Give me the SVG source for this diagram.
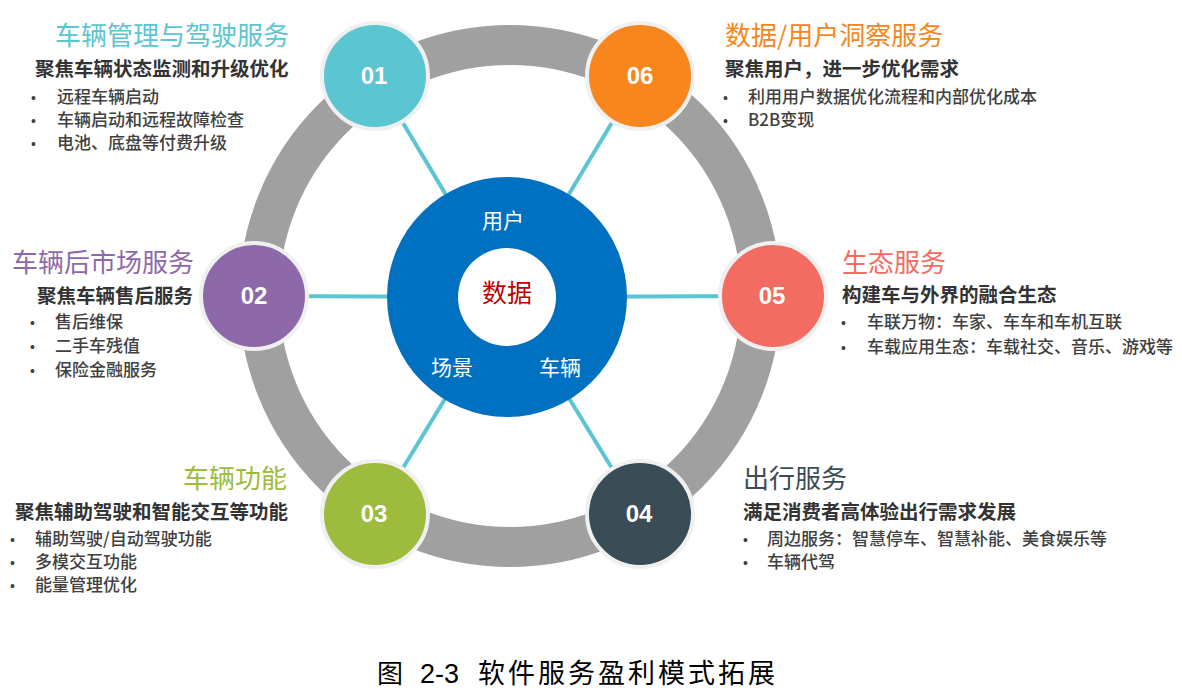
<svg xmlns="http://www.w3.org/2000/svg" width="1182" height="693" viewBox="0 0 1182 693">
<style>
.cjk{font-family:"Noto Sans CJK SC","Noto Sans",sans-serif}
.title{font-size:26px;font-weight:400}
.sub{font-size:19.5px;font-weight:700;fill:#333333}
.item{font-size:17px;font-weight:500;fill:#404040}
.dot{font-family:"Liberation Sans",Arial,sans-serif;font-size:14px;fill:#404040}
.num{font-family:"Liberation Sans",Arial,sans-serif;font-size:24px;font-weight:700;fill:#ffffff;text-anchor:middle}
.node{stroke:#F0F0F0;stroke-width:4}
.link{stroke:#5BC5D2;stroke-width:4;fill:none}
.ctr{fill:#ffffff;font-size:21px;text-anchor:middle}
</style>
<rect width="1182" height="693" fill="#ffffff"/>
<g id="ring">
<circle cx="510" cy="296" r="251" fill="none" stroke="#A0A0A0" stroke-width="40"/>
</g>
<g id="connectors">
<line class="link" x1="507" y1="297" x2="375" y2="76"/>
<line class="link" x1="507" y1="297" x2="640" y2="76"/>
<line class="link" x1="507" y1="297" x2="254" y2="296"/>
<line class="link" x1="507" y1="297" x2="773" y2="296"/>
<line class="link" x1="507" y1="297" x2="375" y2="514"/>
<line class="link" x1="507" y1="297" x2="640" y2="514"/>
</g>
<g id="center">
<circle cx="507" cy="297" r="120" fill="#0070C0"/>
<circle cx="507" cy="297" r="49" fill="#ffffff"/>
<text class="cjk ctr" x="503" y="228">用户</text>
<text class="cjk" x="507" y="302" font-size="25" fill="#C00000" text-anchor="middle">数据</text>
<text class="cjk ctr" x="452" y="375">场景</text>
<text class="cjk ctr" x="560" y="375">车辆</text>
</g>
<g id="node01">
<circle class="node" cx="375" cy="76" r="53" fill="#5BC5D2"/>
<text class="num" x="374" y="84">01</text>
<text class="cjk title" x="55" y="45" fill="#5BC5D2">车辆管理与驾驶服务</text>
<text class="cjk sub" x="35" y="76">聚焦车辆状态监测和升级优化</text>
<text class="dot" x="31" y="103">•</text><text class="cjk item" x="57" y="103">远程车辆启动</text>
<text class="dot" x="31" y="126">•</text><text class="cjk item" x="57" y="126">车辆启动和远程故障检查</text>
<text class="dot" x="31" y="149">•</text><text class="cjk item" x="57" y="149">电池、底盘等付费升级</text>
</g>
<g id="node06">
<circle class="node" cx="640" cy="76" r="53" fill="#F7861E"/>
<text class="num" x="640" y="84">06</text>
<text class="cjk title" x="725" y="45" fill="#F7861E">数据/用户洞察服务</text>
<text class="cjk sub" x="725" y="76">聚焦用户，进一步优化需求</text>
<text class="dot" x="723" y="103">•</text><text class="cjk item" x="748" y="103">利用用户数据优化流程和内部优化成本</text>
<text class="dot" x="723" y="126">•</text><text class="cjk item" x="748" y="126">B2B变现</text>
</g>
<g id="node02">
<circle class="node" cx="254" cy="296" r="53" fill="#8E69AA"/>
<text class="num" x="254" y="304">02</text>
<text class="cjk title" x="12" y="272" fill="#8E69AA">车辆后市场服务</text>
<text class="cjk sub" x="37" y="303">聚焦车辆售后服务</text>
<text class="dot" x="30" y="328">•</text><text class="cjk item" x="55" y="328">售后维保</text>
<text class="dot" x="30" y="352">•</text><text class="cjk item" x="55" y="352">二手车残值</text>
<text class="dot" x="30" y="376">•</text><text class="cjk item" x="55" y="376">保险金融服务</text>
</g>
<g id="node05">
<circle class="node" cx="773" cy="296" r="53" fill="#F26C61"/>
<text class="num" x="772" y="304">05</text>
<text class="cjk title" x="842" y="272" fill="#F26C61">生态服务</text>
<text class="cjk sub" x="842" y="302">构建车与外界的融合生态</text>
<text class="dot" x="841" y="328">•</text><text class="cjk item" x="867" y="328">车联万物：车家、车车和车机互联</text>
<text class="dot" x="841" y="353">•</text><text class="cjk item" x="867" y="353">车载应用生态：车载社交、音乐、游戏等</text>
</g>
<g id="node03">
<circle class="node" cx="375" cy="514" r="53" fill="#9DBB3D"/>
<text class="num" x="374" y="522">03</text>
<text class="cjk title" x="183" y="488" fill="#9DBB3D">车辆功能</text>
<text class="cjk sub" x="15" y="519">聚焦辅助驾驶和智能交互等功能</text>
<text class="dot" x="10" y="545">•</text><text class="cjk item" x="35" y="545">辅助驾驶/自动驾驶功能</text>
<text class="dot" x="10" y="568">•</text><text class="cjk item" x="35" y="568">多模交互功能</text>
<text class="dot" x="10" y="591">•</text><text class="cjk item" x="35" y="591">能量管理优化</text>
</g>
<g id="node04">
<circle class="node" cx="640" cy="514" r="53" fill="#3A4C55"/>
<text class="num" x="639" y="522">04</text>
<text class="cjk title" x="743" y="488" fill="#3A4C55">出行服务</text>
<text class="cjk sub" x="743" y="519">满足消费者高体验出行需求发展</text>
<text class="dot" x="743" y="545">•</text><text class="cjk item" x="767" y="545">周边服务：智慧停车、智慧补能、美食娱乐等</text>
<text class="dot" x="743" y="568">•</text><text class="cjk item" x="767" y="568">车辆代驾</text>
</g>
<g id="caption">
<text class="cjk" x="377" y="683" font-size="26" fill="#000000">图</text>
<text x="420" y="683" font-family="Liberation Sans, Arial, sans-serif" font-size="27" fill="#000000">2-3</text>
<text class="cjk" x="478" y="683" font-size="27" letter-spacing="3" fill="#000000">软件服务盈利模式拓展</text>
</g>
</svg>
